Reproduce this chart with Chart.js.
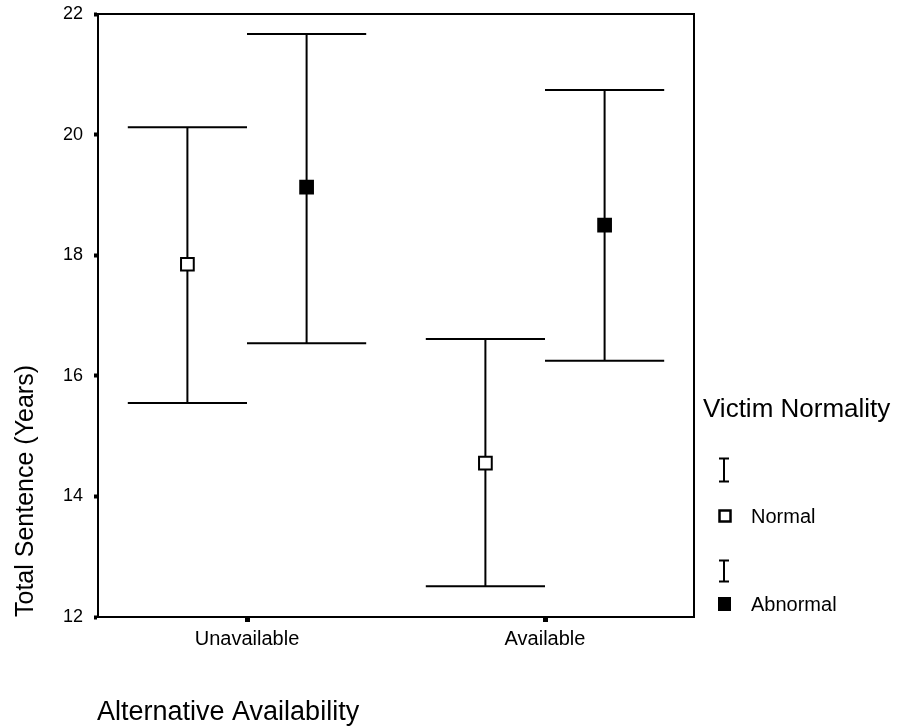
<!DOCTYPE html>
<html>
<head>
<meta charset="utf-8">
<script src="https://cdn.jsdelivr.net/npm/chart.js@4.4.1/dist/chart.umd.min.js"></script>
<style>
  html, body { margin: 0; padding: 0; background: #ffffff; }
  #wrap { width: 906px; height: 726px; }
</style>
</head>
<body>
<div id="wrap"><canvas id="c" width="906" height="726"></canvas></div>
<script>
// ---- data ----
const categories = ['Unavailable', 'Available'];
const seriesNames = ['Normal', 'Abnormal'];
const normalMean = [17.85, 14.55];
const normalLow = [15.55, 12.51];
const normalHigh = [20.12, 16.61];
const abnormalMean = [19.13, 18.50];
const abnormalLow = [16.54, 16.25];
const abnormalHigh = [21.67, 20.74];
const yTicks = [12, 14, 16, 18, 20, 22];
const xTitle = 'Alternative Availability';
const yTitle = 'Total Sentence (Years)';
const legendTitle = 'Victim Normality';

// ---- styling / layout constants ----
const FONT = "'Liberation Sans', Arial, Helvetica, sans-serif";
const GROUP_OFFSET = 0.2;   // x offset of each series within a category
const CAP_HALF = 0.2;       // half width of error-bar caps (x units)

const series = [
  { name: seriesNames[0], mean: normalMean, low: normalLow, high: normalHigh, off: -GROUP_OFFSET, fill: '#ffffff' },
  { name: seriesNames[1], mean: abnormalMean, low: abnormalLow, high: abnormalHigh, off: GROUP_OFFSET, fill: '#000000' }
];

const errorBars = {
  id: 'errorBars',
  beforeDatasetsDraw(chart) {
    const { ctx, scales: { x, y } } = chart;
    ctx.save();
    ctx.strokeStyle = '#000';
    ctx.lineWidth = 2;
    ctx.lineCap = 'butt';
    series.forEach(s => {
      categories.forEach((c, i) => {
        const xc = x.getPixelForValue(i + s.off);
        const xl = x.getPixelForValue(i + s.off - CAP_HALF);
        const xr = x.getPixelForValue(i + s.off + CAP_HALF);
        const yh = y.getPixelForValue(s.high[i]);
        const yl = y.getPixelForValue(s.low[i]);
        ctx.beginPath();
        ctx.moveTo(xc, yh); ctx.lineTo(xc, yl);
        ctx.moveTo(xl, yh); ctx.lineTo(xr, yh);
        ctx.moveTo(xl, yl); ctx.lineTo(xr, yl);
        ctx.stroke();
      });
    });
    ctx.restore();
  }
};

const frameAndText = {
  id: 'frameAndText',
  afterDraw(chart) {
    const { ctx, chartArea: a } = chart;
    ctx.save();
    // frame (top & right sides; left/bottom come from the axes)
    ctx.strokeStyle = '#000';
    ctx.lineWidth = 2;
    ctx.beginPath();
    ctx.moveTo(a.left, a.top); ctx.lineTo(a.right, a.top); ctx.lineTo(a.right, a.bottom);
    ctx.stroke();

    ctx.fillStyle = '#000';
    // x axis title (left justified at the axis start)
    ctx.font = '27px ' + FONT;
    ctx.textAlign = 'left';
    ctx.textBaseline = 'alphabetic';
    ctx.fillText(xTitle, a.left - 1, 720);

    // y axis title (bottom justified at the axis start)
    ctx.save();
    ctx.font = '25px ' + FONT;
    ctx.translate(33, a.bottom);
    ctx.rotate(-Math.PI / 2);
    ctx.fillText(yTitle, 0, 0);
    ctx.restore();

    // legend
    ctx.font = '26px ' + FONT;
    ctx.fillText(legendTitle, a.right + 9, 417);

    const drawBeam = (cx, cy, h) => {
      ctx.beginPath();
      ctx.lineWidth = 2;
      ctx.strokeStyle = '#000';
      ctx.moveTo(cx, cy - h / 2); ctx.lineTo(cx, cy + h / 2);
      ctx.moveTo(cx - 5, cy - h / 2); ctx.lineTo(cx + 5, cy - h / 2);
      ctx.moveTo(cx - 5, cy + h / 2); ctx.lineTo(cx + 5, cy + h / 2);
      ctx.stroke();
    };
    const rows = [{ beam: 470, h: 23, mark: 516 }, { beam: 571, h: 21, mark: 604 }];
    ctx.font = '20px ' + FONT;
    series.forEach((s, k) => {
      drawBeam(a.right + 30, rows[k].beam, rows[k].h);
      const sx = a.right + 31, sy = rows[k].mark;
      if (s.fill === '#000000') {
        ctx.fillStyle = '#000';
        ctx.fillRect(sx - 7, sy - 7, 13, 14);
      } else {
        ctx.fillStyle = '#fff';
        ctx.lineWidth = 2.5;
        ctx.fillRect(sx - 5.5, sy - 5.5, 11, 11);
        ctx.strokeRect(sx - 5.5, sy - 5.5, 11, 11);
      }
      ctx.fillStyle = '#000';
      ctx.textBaseline = 'alphabetic';
      ctx.fillText(s.name, a.right + 57, sy + 7);
    });
    ctx.restore();
  }
};

const datasets = series.map(s => ({
  label: s.name,
  data: s.mean.map((v, i) => ({ x: i + s.off, y: v })),
  pointStyle: 'rect',
  pointRadius: 9,
  pointHoverRadius: 9,
  pointBackgroundColor: s.fill,
  pointBorderColor: '#000',
  pointBorderWidth: 2,
  showLine: false
}));

new Chart(document.getElementById('c'), {
  type: 'scatter',
  data: { datasets },
  plugins: [errorBars, frameAndText],
  options: {
    responsive: false,
    animation: false,
    events: [],
    layout: { padding: { left: 0, top: 14, right: 212, bottom: 0 } },
    plugins: { legend: { display: false }, tooltip: { enabled: false } },
    scales: {
      x: {
        type: 'linear',
        min: -0.5,
        max: 1.5,
        afterBuildTicks: (sc) => { sc.ticks = categories.map((c, i) => ({ value: i })); },
        afterFit: (sc) => { sc.height = 109; sc.paddingLeft = 0; sc.paddingRight = 0; },
        ticks: {
          color: '#000',
          font: { family: FONT, size: 20 },
          padding: 5,
          maxRotation: 0,
          callback: (v) => categories[v] ?? ''
        },
        grid: { drawOnChartArea: false, drawTicks: true, tickLength: 5, tickWidth: 5, tickColor: '#000' },
        border: { display: true, color: '#000', width: 2 }
      },
      y: {
        min: 12,
        max: 22,
        afterBuildTicks: (sc) => { sc.ticks = yTicks.map(v => ({ value: v })); },
        afterFit: (sc) => { sc.width = 98; sc.paddingTop = 0; sc.paddingBottom = 0; },
        ticks: {
          color: '#000',
          font: { family: FONT, size: 18 },
          padding: 11
        },
        grid: { drawOnChartArea: false, drawTicks: true, tickLength: 4, tickWidth: 4, tickColor: '#000' },
        border: { display: true, color: '#000', width: 2 }
      }
    }
  }
});
</script>
</body>
</html>
